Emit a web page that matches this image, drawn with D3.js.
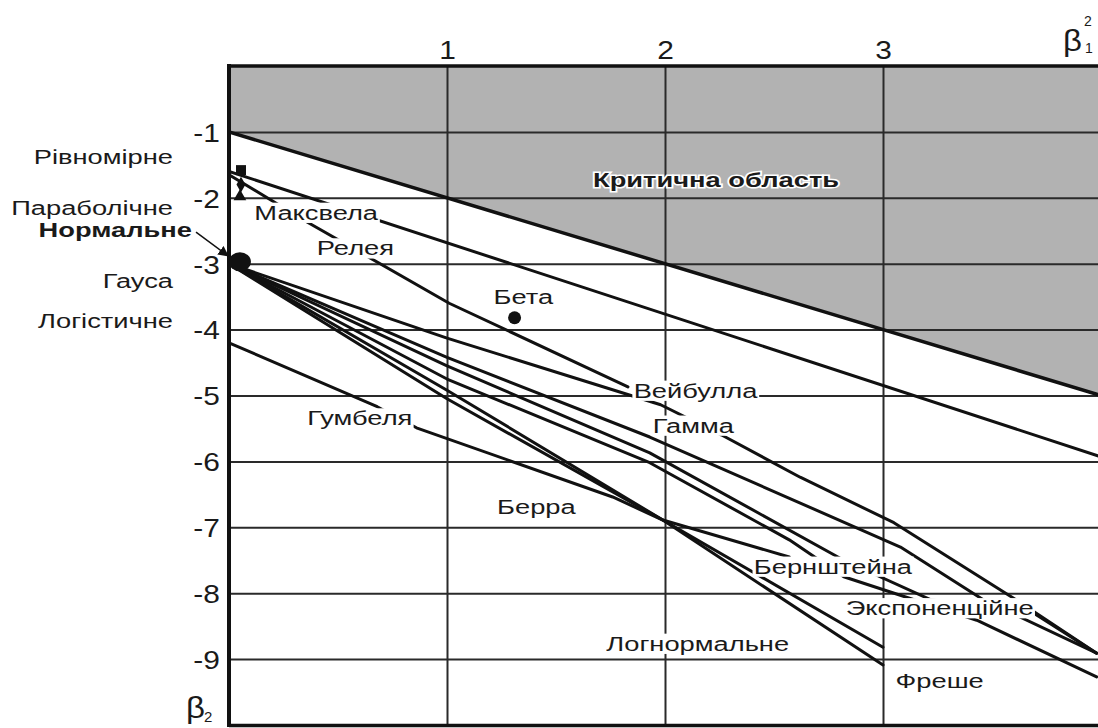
<!DOCTYPE html>
<html>
<head>
<meta charset="utf-8">
<script src="https://cdn.jsdelivr.net/npm/d3@7"></script>
<style>
  body { margin: 0; background: #fff; }
  text { font-family: "Liberation Sans", Arial, sans-serif; fill: #1a1a1a; }
</style>
</head>
<body>
<svg id="chart" width="1098" height="728"></svg>
<script>
// Axis ticks: β1² along the top, β2 (negative, downward) on the left
const xTicks = [1, 2, 3];
const yTicks = [-1, -2, -3, -4, -5, -6, -7, -8, -9];

// Boundary of the critical region: β2 = -1 - β1²
const criticalBoundary = [[0, -1], [4, -5]];

// Distribution curves as [β1², β2] points
const maxwellCurve   = [[0, -1.6], [4, -5.93]];
const weibullCurve   = [[0, -1.65], [0.36, -2.37], [1.01, -3.6], [1.83, -4.87]];
const gammaCurve     = [[0, -3], [1, -4.13], [1.98, -5.14], [2.26, -5.6], [2.62, -6.24], [3.05, -6.93], [3.61, -8.1], [3.98, -8.91]];
const fanCurveA      = [[0, -3], [1, -4.42], [1.93, -5.63], [3.08, -7.3], [3.46, -8.1], [3.98, -8.91]];
const fanCurveB      = [[0, -3], [1, -4.55], [1.93, -5.87], [2.82, -7.5], [3.22, -8.1], [3.69, -8.3], [3.98, -8.91]];
const fanCurveC      = [[0, -3], [1, -4.75], [1.93, -6.02], [2.57, -7.19], [2.82, -7.75], [3.43, -8.41], [3.98, -9.27]];
const lognormalCurve = [[0, -3], [1, -4.92], [1.99, -6.89], [3, -8.82]];
const frechetCurve   = [[0, -3], [1, -5.05], [1.99, -6.89], [3, -9.09]];
const gumbelCurve    = [[0, -4.2], [0.68, -5.17], [0.86, -5.49], [1.76, -6.54], [1.99, -6.89], [2.57, -7.45]];

// Point distributions
const uniformPoints = [[0.055, -1.58], [0.055, -1.8], [0.05, -1.98]];
const gaussPoint = [0.05, -2.97];
const betaPoint = [1.31, -3.82];

// Curve labels: [text, β1², β2]
const curveLabels = [
  ["Максвела", 0.40, -2.22],
  ["Релея", 0.58, -2.76],
  ["Бета", 1.35, -3.5],
  ["Вейбулла", 2.14, -4.92],
  ["Гамма", 2.13, -5.45],
  ["Гумбеля", 0.60, -5.34],
  ["Берра", 1.41, -6.68],
  ["Бернштейна", 2.77, -7.59],
  ["Экспоненційне", 3.26, -8.22],
  ["Логнормальне", 2.15, -8.76],
  ["Фреше", 3.26, -9.33]
];

// Names of the symmetric distributions listed beside the β2 axis: [text, β2, bold]
const sideLabels = [
  ["Рівномірне", -1.38, false],
  ["Параболічне", -2.15, false],
  ["Нормальне", -2.48, true],
  ["Гауса", -3.26, false],
  ["Логістичне", -3.86, false]
];

const regionLabel = ["Критична область", 2.234, -1.73];

const svg = d3.select("#chart");
const W = 1098, H = 728;
const plotLeft = 229, plotTop = 66;
const x = d3.scaleLinear().domain([0, 4]).range([plotLeft, 1101]);
const y = d3.scaleLinear().domain([0, -10]).range([plotTop, 725]);
const plotW = x(4) - plotLeft, plotH = y(-10) - plotTop;
const stretch = 1.3; // lettering is set wide
const labelSize = 21;

const defs = svg.append("defs");
defs.append("clipPath").attr("id", "plot")
  .append("rect").attr("x", plotLeft).attr("y", plotTop).attr("width", plotW).attr("height", plotH);

// Critical region shading
svg.append("path")
  .datum(criticalBoundary)
  .attr("clip-path", "url(#plot)")
  .attr("fill", "#b2b2b2")
  .attr("d", d3.area().x(d => x(d[0])).y0(y(0)).y1(d => y(d[1])));

// Grid + tick labels through axes
const xAxis = svg.append("g").attr("transform", `translate(0,${plotTop})`)
  .call(d3.axisTop(x).tickValues(xTicks).tickSize(-plotH).tickPadding(7).tickFormat(d3.format("d")));
const yAxis = svg.append("g").attr("transform", `translate(${plotLeft},0)`)
  .call(d3.axisLeft(y).tickValues(yTicks).tickSize(-plotW).tickPadding(8).tickFormat(d => "-" + Math.abs(d)));
[xAxis, yAxis].forEach(a => {
  a.select(".domain").remove();
  a.selectAll(".tick line").attr("stroke", "#2a2a2a").attr("stroke-width", 2);
  a.selectAll(".tick text")
    .attr("font-size", 26)
    .attr("fill", "#1a1a1a")
    .attr("font-family", "Liberation Sans, Arial, sans-serif");
});
xAxis.selectAll(".tick text").attr("transform", "scale(1.15,1)");
yAxis.selectAll(".tick text").attr("transform", "scale(1.15,1)").attr("dy", "0.36em");

// Curves
const line = d3.line().x(d => x(d[0])).y(d => y(d[1]));
const curveGroup = svg.append("g").attr("clip-path", "url(#plot)")
  .attr("fill", "none").attr("stroke", "#111").attr("stroke-width", 3)
  .attr("stroke-linejoin", "round").attr("stroke-linecap", "round");
[maxwellCurve, weibullCurve, gammaCurve, fanCurveA, fanCurveB, fanCurveC,
 lognormalCurve, frechetCurve, gumbelCurve].forEach(c => curveGroup.append("path").attr("d", line(c)));
curveGroup.append("path").attr("d", line(criticalBoundary)).attr("stroke-width", 3.5);

// Frame: heavy left, top and bottom edges
svg.append("line").attr("x1", plotLeft).attr("x2", plotLeft).attr("y1", plotTop - 2).attr("y2", 727)
  .attr("stroke", "#111").attr("stroke-width", 4);
svg.append("line").attr("x1", plotLeft).attr("x2", W).attr("y1", plotTop).attr("y2", plotTop)
  .attr("stroke", "#111").attr("stroke-width", 3.5);
svg.append("line").attr("x1", plotLeft).attr("x2", W).attr("y1", 725.5).attr("y2", 725.5)
  .attr("stroke", "#111").attr("stroke-width", 3.5);

// Point markers
const sym = [d3.symbolSquare, d3.symbolDiamond, d3.symbolTriangle];
const symSize = [100, 70, 70];
uniformPoints.forEach((p, i) => {
  svg.append("path")
    .attr("transform", `translate(${x(p[0])},${y(p[1])})`)
    .attr("d", d3.symbol(sym[i], symSize[i])())
    .attr("fill", "#111");
});
svg.append("ellipse").attr("cx", x(gaussPoint[0])).attr("cy", y(gaussPoint[1]))
  .attr("rx", 11).attr("ry", 9.5).attr("fill", "#111");
svg.append("circle").attr("cx", x(betaPoint[0])).attr("cy", y(betaPoint[1]))
  .attr("r", 6.5).attr("fill", "#111");

// Curve labels on white patches
curveLabels.forEach(([t, bx, by]) => {
  const g = svg.append("g").attr("transform", `translate(${x(bx)},${y(by)}) scale(${stretch},1)`);
  const rect = g.append("rect").attr("fill", "#fff");
  const txt = g.append("text").attr("text-anchor", "middle").attr("dy", "0.35em")
    .attr("font-size", labelSize).text(t);
  const b = txt.node().getBBox();
  rect.attr("x", b.x - 1).attr("y", b.y + 2).attr("width", b.width + 2).attr("height", b.height - 3);
});

// Side labels
sideLabels.forEach(([t, by, bold]) => {
  svg.append("text")
    .attr("transform", `translate(${bold ? 192 : 173},${y(by)}) scale(${stretch},1)`)
    .attr("text-anchor", "end").attr("dy", "0.35em")
    .attr("font-size", labelSize).attr("font-weight", bold ? "bold" : "normal")
    .text(t);
});

// Arrow from "Нормальне" to the Gaussian point
defs.append("marker").attr("id", "arrow")
  .attr("viewBox", "0 0 10 10").attr("refX", 9).attr("refY", 5)
  .attr("markerWidth", 7).attr("markerHeight", 7).attr("orient", "auto")
  .append("path").attr("d", "M0,0L10,5L0,10z").attr("fill", "#111");
svg.append("line")
  .attr("x1", 196).attr("y1", y(-2.52))
  .attr("x2", x(0) - 1).attr("y2", y(-2.88))
  .attr("stroke", "#111").attr("stroke-width", 1.5).attr("marker-end", "url(#arrow)");

// Critical-region caption with white halo
svg.append("text")
  .attr("transform", `translate(${x(regionLabel[1])},${y(regionLabel[2])}) scale(${stretch},1)`)
  .attr("text-anchor", "middle").attr("dy", "0.35em")
  .attr("font-size", 21).attr("font-weight", "bold")
  .attr("stroke", "#fff").attr("stroke-width", 3).attr("paint-order", "stroke")
  .text(regionLabel[0]);

// Axis titles β1² and β2
svg.append("text").attr("transform", "translate(1063,51) scale(1.1,1)").attr("font-size", 30).text("β");
svg.append("text").attr("x", 1085).attr("y", 53).attr("font-size", 14).text("1");
svg.append("text").attr("x", 1084).attr("y", 26).attr("font-size", 14).text("2");
svg.append("text").attr("transform", "translate(186,718) scale(1.1,1)").attr("font-size", 30).text("β");
svg.append("text").attr("x", 204).attr("y", 722).attr("font-size", 15).text("2");
</script>
</body>
</html>
